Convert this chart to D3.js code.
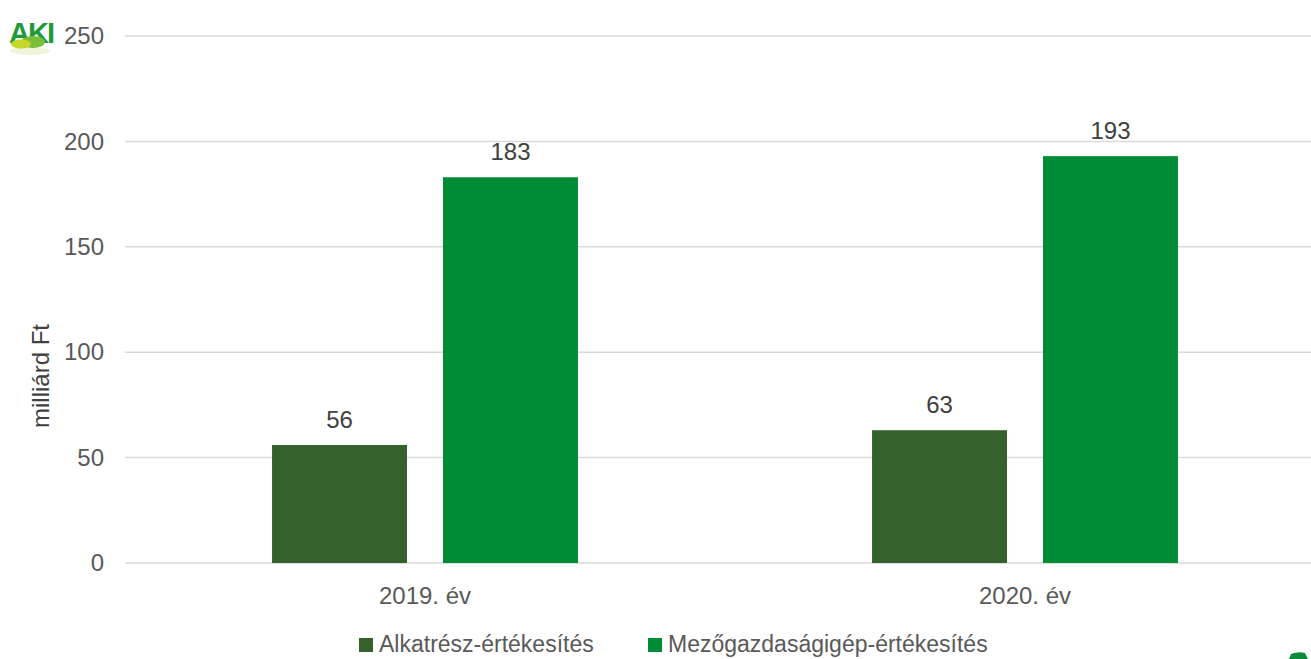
<!DOCTYPE html>
<html>
<head>
<meta charset="utf-8">
<script src="https://cdn.jsdelivr.net/npm/d3@7"></script>
<style>
  body { margin: 0; background: #fff; }
  svg text { font-family: "Liberation Sans", Arial, sans-serif; }
</style>
</head>
<body>
<div id="chart"></div>
<script>
// data
const categories = ['2019. év', '2020. év']
const seriesNames = ['Alkatrész-értékesítés', 'Mezőgazdaságigép-értékesítés']
const alkatresz = [56, 63]
const gep = [183, 193]
const yTicks = [0, 50, 100, 150, 200, 250]
const colors = ['#35622c', '#008c36']

let width = 1311
let height = 659
let fontSize = 24

const svg = d3.select('#chart')
  .append('svg')
  .attr('width', width)
  .attr('height', height)

let rows = categories.map((c, i) => ({cat: c, values: [alkatresz[i], gep[i]]}))

let x0 = d3.scaleBand()
  .domain(categories)
  .range([125, 1325])

let x1 = d3.scaleBand()
  .domain(seriesNames)
  .range([0, x0.bandwidth()])
  .paddingInner(0.2105)
  .paddingOuter(0.86)

let y = d3.scaleLinear()
  .domain([0, 250])
  .range([563, 36])

// gridlines
svg.append('g')
  .selectAll('line')
  .data(yTicks)
  .join('line')
  .attr('x1', 125)
  .attr('x2', width)
  .attr('y1', d => y(d))
  .attr('y2', d => y(d))
  .attr('stroke', '#d9d9d9')
  .attr('stroke-width', 1.5)

// y axis labels
let yAxis = g => g
  .attr('transform', 'translate(104,0)')
  .call(d3.axisLeft(y).tickValues(yTicks).tickSize(0).tickPadding(0))
  .call(g => g.select('.domain').remove())
  .call(g => g.selectAll('text')
    .attr('font-size', fontSize)
    .attr('fill', '#595959')
    .style('font-family', '"Liberation Sans", Arial, sans-serif'))

svg.append('g').call(yAxis)

// x axis labels
let xAxis = g => g
  .attr('transform', 'translate(0,604)')
  .call(d3.axisBottom(x0).tickSize(0).tickPadding(0))
  .call(g => g.select('.domain').remove())
  .call(g => g.selectAll('text')
    .attr('font-size', fontSize)
    .attr('fill', '#595959')
    .attr('dy', 0)
    .style('font-family', '"Liberation Sans", Arial, sans-serif'))

svg.append('g').call(xAxis)

// axis title
svg.append('text')
  .attr('transform', 'translate(49,376) rotate(-90)')
  .attr('text-anchor', 'middle')
  .attr('font-size', fontSize)
  .attr('fill', '#404040')
  .text('milliárd Ft')

// bars
let groups = svg.append('g')
  .selectAll('g')
  .data(rows)
  .join('g')
  .attr('transform', d => `translate(${x0(d.cat)},0)`)

groups.selectAll('rect')
  .data(d => d.values.map((v, i) => ({name: seriesNames[i], value: v, i: i})))
  .join('rect')
  .attr('x', d => x1(d.name))
  .attr('y', d => y(d.value))
  .attr('width', x1.bandwidth())
  .attr('height', d => y(0) - y(d.value))
  .attr('fill', d => colors[d.i])

groups.selectAll('text')
  .data(d => d.values.map((v, i) => ({name: seriesNames[i], value: v})))
  .join('text')
  .attr('x', d => x1(d.name) + x1.bandwidth() / 2)
  .attr('y', d => y(d.value) - 17)
  .attr('text-anchor', 'middle')
  .attr('font-size', fontSize)
  .attr('fill', '#404040')
  .text(d => d.value)

// legend
let legendX = [359, 648]
let legend = svg.append('g')
  .selectAll('g')
  .data(seriesNames)
  .join('g')
  .attr('transform', (d, i) => `translate(${legendX[i]},638)`)

legend.append('rect')
  .attr('width', 14)
  .attr('height', 14)
  .attr('fill', (d, i) => colors[i])

legend.append('text')
  .attr('x', 20)
  .attr('y', 14)
  .attr('font-size', 23)
  .attr('fill', '#595959')
  .text(d => d)

// AKI logo (top left)
let logo = svg.append('g')
logo.append('ellipse').attr('cx', 30).attr('cy', 51).attr('rx', 20).attr('ry', 4).attr('fill', '#dfeab8').attr('opacity', 0.5)
logo.append('text')
  .attr('x', 9)
  .attr('y', 43)
  .attr('font-size', 29)
  .attr('font-weight', 'bold')
  .attr('letter-spacing', -2)
  .attr('fill', '#1e9a3a')
  .text('AKI')
logo.append('ellipse').attr('cx', 33).attr('cy', 42).attr('rx', 12).attr('ry', 6).attr('fill', '#7cbd3a')
logo.append('ellipse').attr('cx', 21).attr('cy', 44).attr('rx', 10).attr('ry', 4.5).attr('fill', '#c5d82a')

// corner logo fragment (bottom right)
svg.append('path')
  .attr('d', 'M1289,659 L1291,654 Q1298,651 1305,653 L1308,659 Z')
  .attr('fill', '#0d8a3a')
</script>
</body>
</html>
